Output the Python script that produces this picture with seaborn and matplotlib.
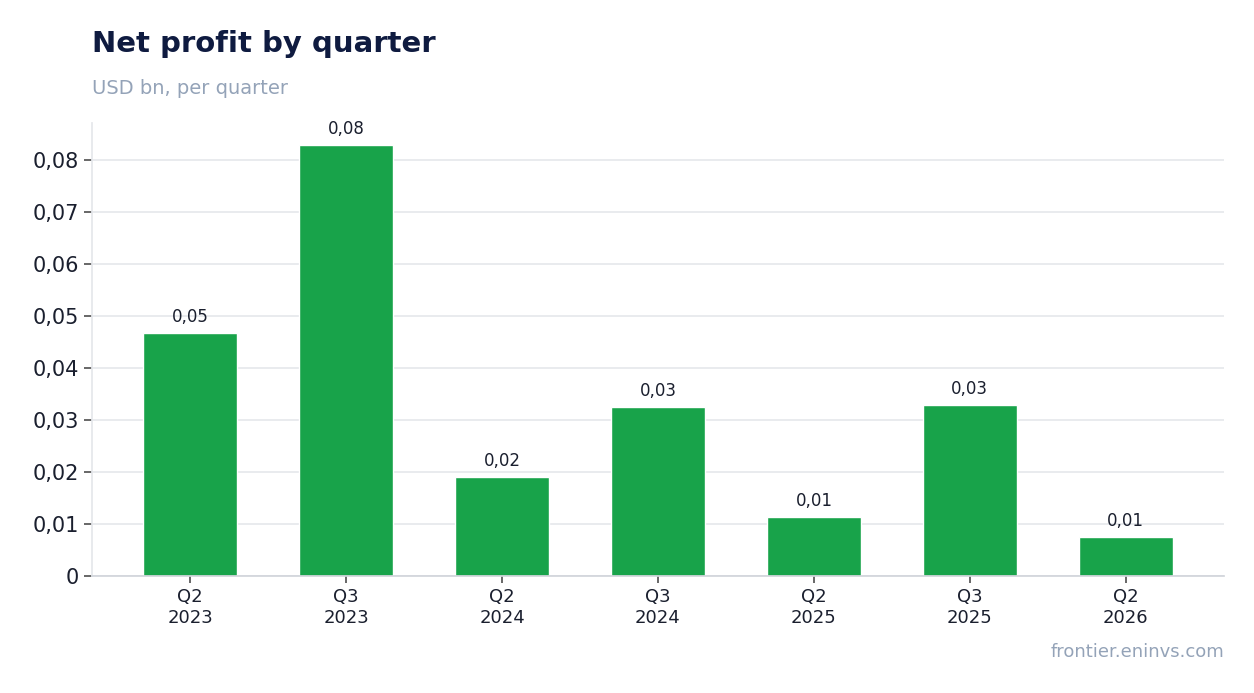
import matplotlib
matplotlib.use("Agg")
import matplotlib.pyplot as plt
import seaborn as sns
import pandas as pd
from matplotlib.ticker import FuncFormatter

categories = ["Q2\n2023", "Q3\n2023", "Q2\n2024", "Q3\n2024", "Q2\n2025", "Q3\n2025", "Q2\n2026"]
values = [0.0467, 0.0829, 0.0190, 0.0325, 0.01135, 0.0329, 0.0075]

sns.set_theme(style="white")
plt.rcParams['font.family'] = ['DejaVu Sans']

df = pd.DataFrame({"q": categories, "v": values})
fig = plt.figure(figsize=(12.54, 6.93), dpi=100)
ax = fig.add_axes([92/1254, 1-576/693, (1224-92)/1254, (576-123)/693])
sns.barplot(data=df, x="q", y="v", color="#18a34a", width=0.6, ax=ax, saturation=1)

def fmt(v):
    return "0" if abs(v) < 1e-12 else f"{v:.2f}".replace(".", ",")

for i, v in enumerate(values):
    ax.annotate(fmt(v), (i, v), xytext=(0, 5), textcoords="offset points",
                ha="center", va="bottom", fontsize=12, color="#1a1f2e")

ax.set_xlim(-0.63, 6.63)
ax.set_ylim(0, 0.0871)
ax.set_yticks([i * 0.01 for i in range(9)])
ax.yaxis.set_major_formatter(FuncFormatter(lambda v, p: fmt(v)))
ax.grid(axis="y", color="#e5e7eb", linewidth=1.2)
ax.set_axisbelow(True)
ax.set_xlabel("")
ax.set_ylabel("")
for s in ["top", "right"]:
    ax.spines[s].set_visible(False)
ax.spines["left"].set_color("#e5e7eb")
ax.spines["bottom"].set_color("#d1d5db")
ax.tick_params(axis="y", labelsize=15, colors="#1a1f2e", left=True, length=6, color="#555")
ax.tick_params(axis="x", labelsize=13, colors="#1a1f2e", bottom=True, length=5, color="#555")
for t in ax.get_yticklabels():
    t.set_color("#1a1f2e")

fig.text(92/1254, 1-44/693, "Net profit by quarter", fontsize=21, fontweight="bold",
         color="#0f1b40", va="center")
fig.text(92/1254, 1-88/693, "USD bn, per quarter", fontsize=14, color="#94a3b8", va="center")
fig.text(1224/1254, 1-652/693, "frontier.eninvs.com", fontsize=13, color="#94a3b8",
         ha="right", va="center")
fig.savefig("out.png", dpi=100)
